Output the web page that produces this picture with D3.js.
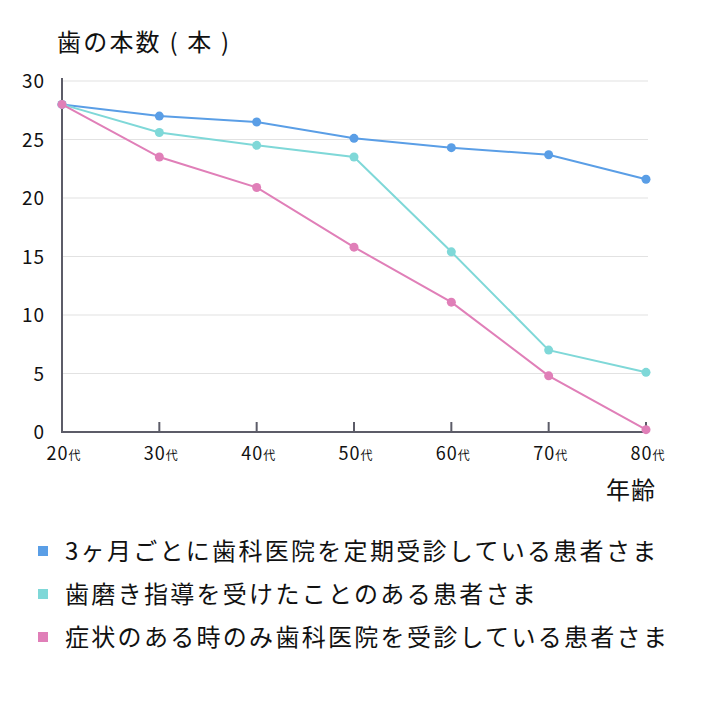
<!DOCTYPE html>
<html>
<head>
<meta charset="utf-8">
<script src="https://cdn.jsdelivr.net/npm/d3@7"></script>
<style>
  body { margin: 0; background: #fff; }
  svg text { font-family: "Noto Sans CJK JP", "Noto Sans", sans-serif; fill: #111; }
</style>
</head>
<body>
<svg id="chart" width="702" height="714"></svg>
<script>
// data
const ages = [20, 30, 40, 50, 60, 70, 80];
const yTicks = [0, 5, 10, 15, 20, 25, 30];
const regular = [28, 27.0, 26.5, 25.1, 24.3, 23.7, 21.6];
const guided = [28, 25.6, 24.5, 23.5, 15.4, 7.0, 5.1];
const symptom = [28, 23.5, 20.9, 15.8, 11.1, 4.8, 0.2];
const names = ["3ヶ月ごとに歯科医院を定期受診している患者さま", "歯磨き指導を受けたことのある患者さま", "症状のある時のみ歯科医院を受診している患者さま"];
const colors = ["#5a9ee6", "#7fd8d8", "#e07fb8"];

const svg = d3.select("#chart");
const xScale = d3.scaleLinear().domain([20, 80]).range([62, 646]);
const yScale = d3.scaleLinear().domain([0, 30]).range([432, 81]);

// grid
svg.append("g").selectAll("line").data(yTicks.filter(d => d > 0)).enter().append("line")
  .attr("x1", 62).attr("x2", 648)
  .attr("y1", d => yScale(d)).attr("y2", d => yScale(d))
  .attr("stroke", "#e2e2e2").attr("stroke-width", 1.2);

// y tick labels
svg.append("g").selectAll("text").data(yTicks).enter().append("text")
  .attr("x", 45).attr("y", d => yScale(d) + 7)
  .attr("text-anchor", "end").attr("font-size", 19).attr("letter-spacing", 1)
  .text(d => d);

// axes
svg.append("line").attr("x1", 62).attr("x2", 62).attr("y1", 78).attr("y2", yScale(0))
  .attr("stroke", "#5c5c68").attr("stroke-width", 2);
svg.append("line").attr("x1", 61).attr("x2", xScale(80)).attr("y1", yScale(0)).attr("y2", yScale(0))
  .attr("stroke", "#5c5c68").attr("stroke-width", 2);
svg.append("g").selectAll("line").data(ages.slice(1)).enter().append("line")
  .attr("x1", d => xScale(d)).attr("x2", d => xScale(d))
  .attr("y1", yScale(0) - 10).attr("y2", yScale(0))
  .attr("stroke", "#5c5c68").attr("stroke-width", 2);

// x tick labels
const xl = svg.append("g").selectAll("text").data(ages).enter().append("text")
  .attr("x", d => xScale(d) + 2).attr("y", 460)
  .attr("text-anchor", "middle").attr("font-size", 18).attr("letter-spacing", 1);
xl.append("tspan").text(d => d);
xl.append("tspan").attr("font-size", 12).text("代");

// titles
svg.append("text").attr("x", 57).attr("y", 51).attr("font-size", 24).attr("letter-spacing", 2.2).text("歯の本数 ( 本 )");
svg.append("text").attr("x", 656).attr("y", 499).attr("text-anchor", "end").attr("font-size", 24).attr("letter-spacing", 1).text("年齢");

// lines + points
const series = [regular, guided, symptom];
const line = d3.line().x((d, i) => xScale(ages[i])).y(d => yScale(d));
series.forEach(function(s, k) {
  svg.append("path").attr("d", line(s)).attr("fill", "none")
    .attr("stroke", colors[k]).attr("stroke-width", 2);
  svg.append("g").selectAll("circle").data(s).enter().append("circle")
    .attr("cx", (d, i) => xScale(ages[i])).attr("cy", d => yScale(d))
    .attr("r", 4.5).attr("fill", colors[k]);
});

// legend
const lg = svg.append("g").selectAll("g").data(names).enter().append("g")
  .attr("transform", (d, i) => "translate(38," + (551 + i * 43) + ")");
lg.append("rect").attr("x", 0).attr("y", -5).attr("width", 10).attr("height", 10)
  .attr("fill", (d, i) => colors[i]);
lg.append("text").attr("x", 27).attr("y", 9).attr("font-size", 24).attr("letter-spacing", 2.3).text(d => d);
</script>
</body>
</html>
